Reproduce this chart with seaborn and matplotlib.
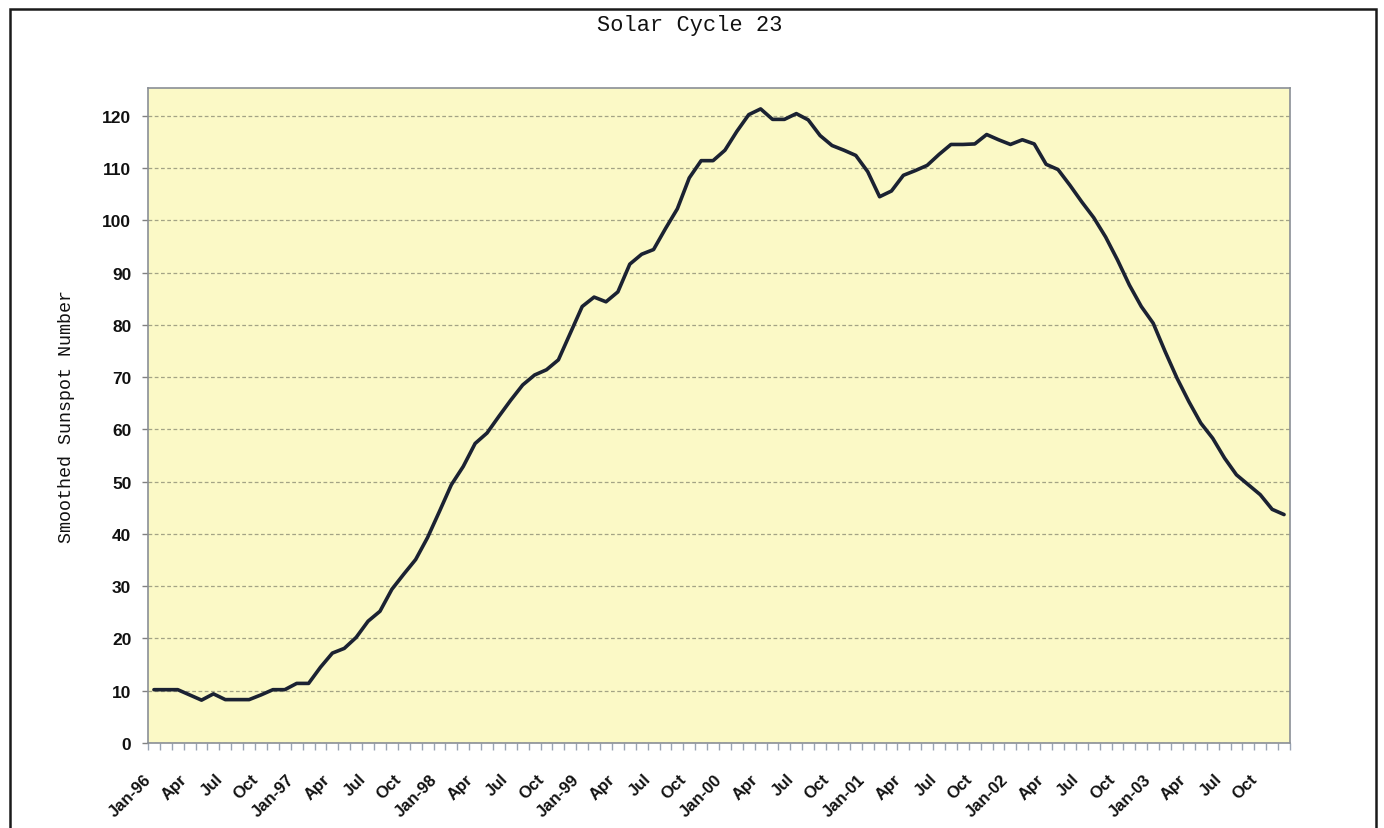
import numpy as np
import pandas as pd
import matplotlib
matplotlib.use("Agg")
import matplotlib.pyplot as plt
import matplotlib.transforms as mtransforms
from matplotlib.patches import Rectangle
import seaborn as sns

# Monthly smoothed sunspot numbers, Jan 1996 - Dec 2003
ssn_1996 = [10.2, 10.2, 10.2, 9.2, 8.2, 9.4, 8.3, 8.3, 8.3, 9.2, 10.2, 10.2]
ssn_1997 = [11.4, 11.4, 14.5, 17.2, 18.1, 20.2, 23.3, 25.2, 29.4, 32.3, 35.1, 39.3]
ssn_1998 = [44.3, 49.4, 52.9, 57.3, 59.3, 62.5, 65.6, 68.5, 70.4, 71.4, 73.3, 78.4]
ssn_1999 = [83.5, 85.3, 84.4, 86.3, 91.6, 93.5, 94.4, 98.4, 102.2, 108.1, 111.4, 111.4]
ssn_2000 = [113.4, 117.0, 120.2, 121.3, 119.3, 119.3, 120.4, 119.2, 116.2, 114.3, 113.4, 112.4]
ssn_2001 = [109.3, 104.5, 105.6, 108.6, 109.5, 110.5, 112.6, 114.5, 114.5, 114.6, 116.4, 115.4]
ssn_2002 = [114.5, 115.4, 114.6, 110.7, 109.7, 106.7, 103.5, 100.5, 96.8, 92.4, 87.6, 83.5]
ssn_2003 = [80.3, 74.9, 69.8, 65.3, 61.2, 58.3, 54.5, 51.3, 49.4, 47.5, 44.7, 43.7]

tick_labels = ["Jan-96", "Apr", "Jul", "Oct",
               "Jan-97", "Apr", "Jul", "Oct",
               "Jan-98", "Apr", "Jul", "Oct",
               "Jan-99", "Apr", "Jul", "Oct",
               "Jan-00", "Apr", "Jul", "Oct",
               "Jan-01", "Apr", "Jul", "Oct",
               "Jan-02", "Apr", "Jul", "Oct",
               "Jan-03", "Apr", "Jul", "Oct"]
y_ticks = [0, 10, 20, 30, 40, 50, 60, 70, 80, 90, 100, 110, 120]

values = (ssn_1996 + ssn_1997 + ssn_1998 + ssn_1999
          + ssn_2000 + ssn_2001 + ssn_2002 + ssn_2003)
df = pd.DataFrame({"month": np.arange(len(values)), "ssn": values})

sns.set_theme(style="white")
W, H = 1384, 829
fig = plt.figure(figsize=(W / 100, H / 100), dpi=100)
fig.patch.set_facecolor("white")

left, right, top, bottom = 148, 1290, 89, 744
ax = fig.add_axes([left / W, 1 - bottom / H, (right - left) / W, (bottom - top) / H])
ax.set_facecolor("#FBF9C6")

sns.lineplot(data=df, x="month", y="ssn", ax=ax, color="#1b2232",
             linewidth=2.6, zorder=3)

ax.set_xlim(-0.5, len(values) - 0.5)
ax.set_ylim(0, 125.3)

# horizontal gridlines
ax.set_yticks(y_ticks)
ax.yaxis.grid(True, color="#a3a385", linestyle=(0, (3, 2)), linewidth=0.9)
ax.xaxis.grid(False)
ax.set_axisbelow(True)

for side in ["left", "right", "top", "bottom"]:
    ax.spines[side].set_color("#8a8f96")
    ax.spines[side].set_linewidth(1.2)

# x axis: labels every quarter, tick marks at every month boundary
ax.set_xticks(np.arange(0, len(values), 3))
ax.set_xticklabels(tick_labels, rotation=45, ha="right", va="center",
                   rotation_mode="anchor", fontsize=12,
                   fontfamily="Liberation Sans", fontweight="bold", color="#111111")
ax.set_xticks(np.arange(-0.5, len(values), 1), minor=True)
ax.tick_params(axis="x", which="major", length=0, pad=24, bottom=True)
ax.tick_params(axis="x", which="minor", length=5, width=1, color="#9aa4b4", bottom=True)
offset = mtransforms.ScaledTranslation(-5 / 100, 0, fig.dpi_scale_trans)
for lbl in ax.get_xticklabels():
    lbl.set_transform(lbl.get_transform() + offset)

ax.set_yticklabels([str(v) for v in y_ticks], fontsize=12.5,
                   fontfamily="Liberation Sans", fontweight="bold", color="#111111")
ax.tick_params(axis="y", which="major", length=4, width=1, color="#808080",
               pad=8, left=True)

ax.set_xlabel("")
ax.set_ylabel("Smoothed Sunspot Number", fontfamily="Liberation Mono",
              fontsize=13.2, color="#111111")
ax.yaxis.set_label_coords(-(left - 75) / (right - left), 0.5)

fig.text(689.5 / W, 1 - 26 / H, "Solar Cycle 23", ha="center", va="center",
         fontfamily="Liberation Mono", fontsize=15.8, color="#111111")

# outer chart frame
fig.add_artist(Rectangle((10 / W, -0.05), (1376 - 10) / W, (1 - 10 / H) + 0.05,
                         transform=fig.transFigure, fill=False,
                         edgecolor="#1a1a1a", linewidth=1.8, clip_on=False))

fig.savefig("out.png", dpi=100, facecolor="white")
